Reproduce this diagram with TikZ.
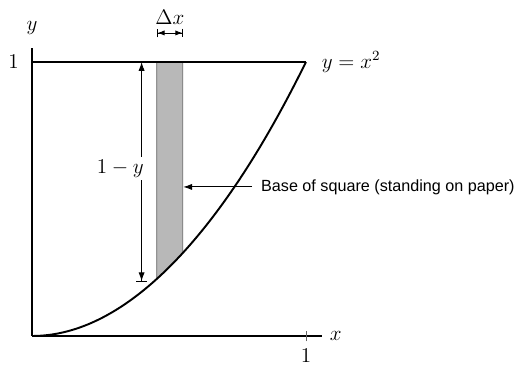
\documentclass[tikz,border=0pt]{standalone}
\usepackage{fontspec}
\newfontfamily\notefont{Liberation Sans}
\usepackage{tikz}
\usetikzlibrary{arrows.meta,positioning,calc}

\begin{document}
\begin{tikzpicture}[x=5.48cm, y=5.48cm,
    % --- Line styles ---
    axis/.style={line width=0.6pt},
    bold/.style={line width=1.1pt},
    strip/.style={fill=black!28, draw=black!60, line width=0.4pt},
    % --- Dimension arrows ---
    dimboth/.style={{Bar[width=5pt]Latex[length=4pt,width=3pt]}-{Latex[length=4pt,width=3pt]Bar[width=5pt]}, line width=0.5pt},
    dimdown/.style={{Latex[length=5pt,width=3.5pt]}-{Latex[length=5pt,width=3.5pt]Bar[width=6pt]}, line width=0.5pt},
    pointer/.style={-{Latex[length=5pt,width=3.5pt]}, line width=0.5pt},
    % --- Text styles ---
    lbl/.style={font=\fontsize{11.5}{13}\selectfont},
    note/.style={font=\notefont\fontsize{9.2}{11}\selectfont},
]
\useasboundingbox (-0.1168,-0.1095) rectangle (1.7628,1.2263);

% === Axes ===
\coordinate (O)    at (0,0);
\coordinate (xend) at (1.058,0);
\coordinate (yend) at (0,1.051);
\draw[axis] (O) -- (xend);
\draw[axis] (O) -- (yend);
\draw[line width=0.4pt, black!60] (1,-0.02) -- (1,0.02);
\node[lbl, right=1pt of xend] (xlab) {$x$};
\node[lbl, above=4pt of yend] (ylab) {$y$};
\node[lbl, below=4pt of {(1,0)}] (xone) {$1$};
\node[lbl, left=4pt of {(0,1)}] (yone) {$1$};

% === The strip between the curve and y = 1 ===
\fill[strip] (0.455,1) -- plot[domain=0.455:0.55, samples=10] (\x,\x*\x) -- (0.55,1) -- cycle;

% === Curve and top line ===
\coordinate (top0) at (0,1);
\coordinate (top1) at (1,1);
\draw[bold] (top0) -- (top1);
\draw[bold] (O) parabola (top1);
\node[lbl, anchor=west] (curvelab) at (1.035,1.0) {$y=x^2$};

% === Width of the strip ===
\coordinate (dxl) at (0.455,1.106);
\coordinate (dxr) at (0.552,1.106);
\draw[dimboth] (dxl) -- (dxr);
\node[lbl, above=1pt of $(dxl)!0.5!(dxr)$] (dxlab) {$\Delta x$};

% === Height 1 - y ===
\coordinate (hgtop) at (0.40,1);
\coordinate (hgbot) at (0.40,0.197);
\draw[dimdown] (hgtop) -- (hgbot);
\node[lbl, fill=white, inner sep=1.5pt] (hglab) at (0.322,0.61) {$1-y$};

% === Pointer to the strip ===
\coordinate (edge) at (0.552,0.544);
\node[note, anchor=west, inner sep=5pt] (base) at (0.803,0.544) {Base of square (standing on paper)};
\draw[pointer] (base.west) -- (edge);

\end{tikzpicture}
\end{document}
